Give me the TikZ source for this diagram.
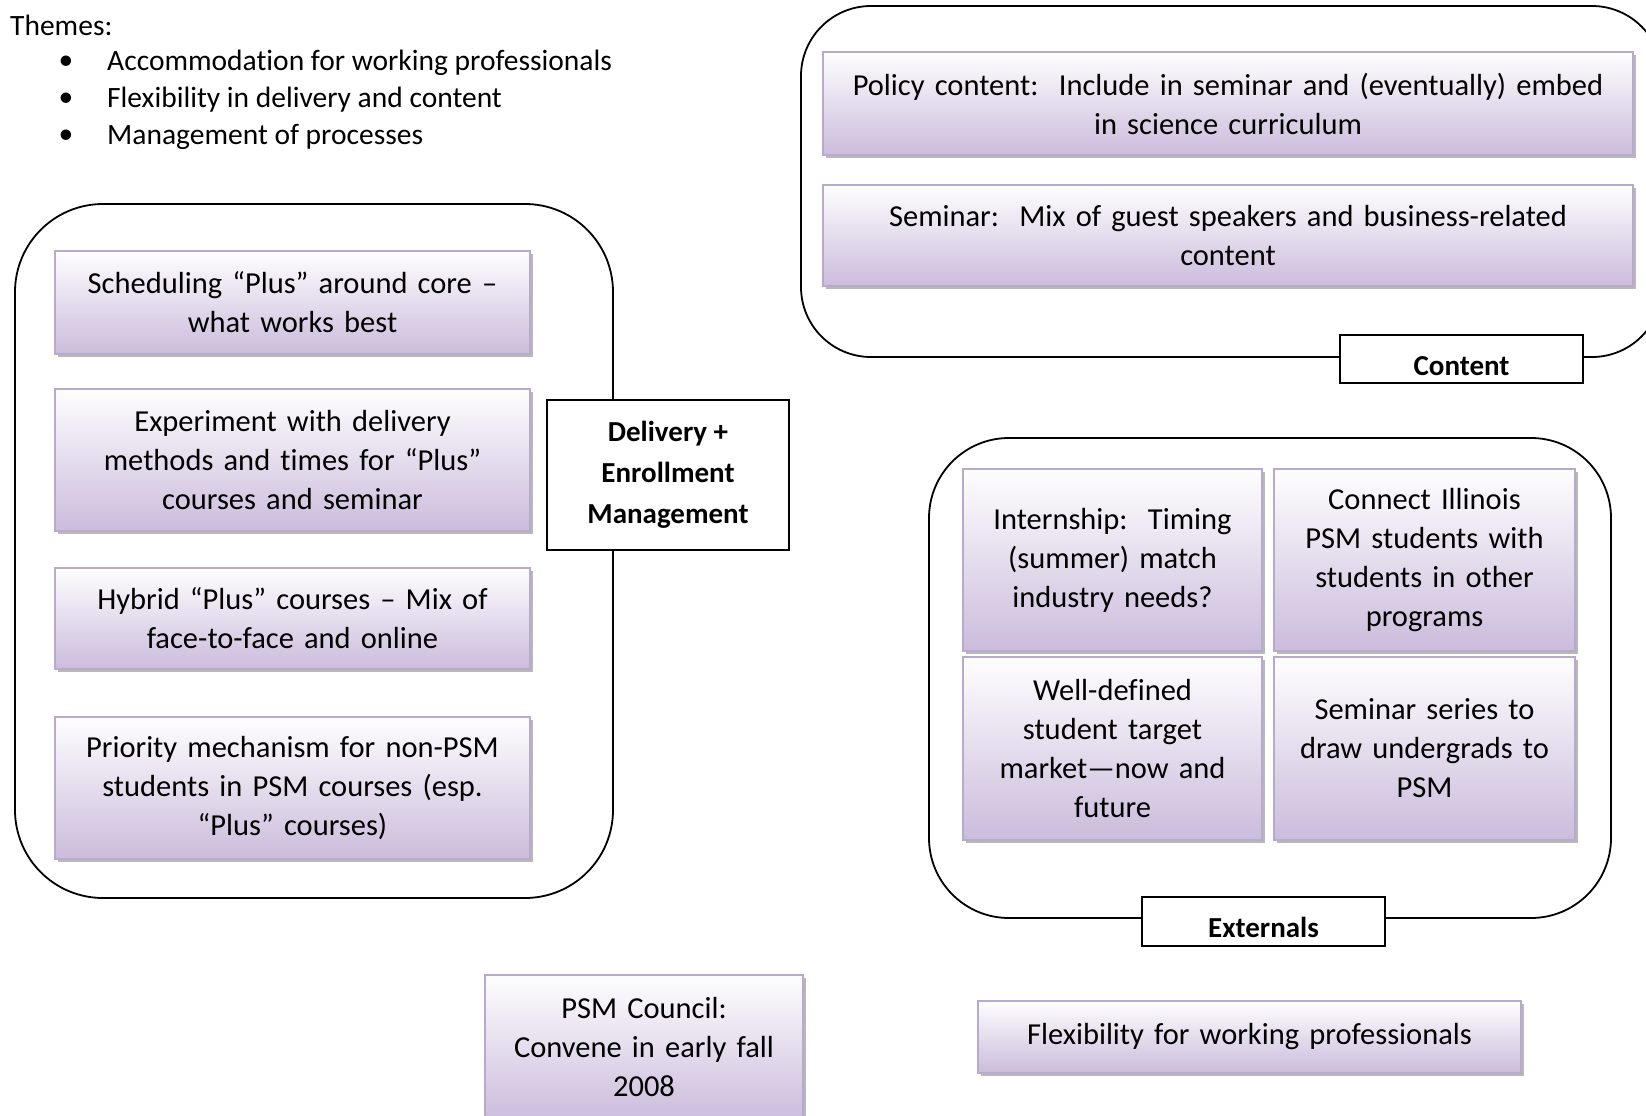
\documentclass[tikz,border=0pt]{standalone}
\usepackage{fontspec}
\setmainfont[RawFeature=-liga]{Carlito}
\usetikzlibrary{shadows}
\definecolor{boxbot}{RGB}{203,188,220}
\definecolor{boxline}{RGB}{184,170,207}
\begin{document}
\begin{tikzpicture}[x=1pt,y=-1pt,
  txt/.style={font=\fontsize{29.5}{38}\selectfont, inner sep=0pt},
  pbox/.style={draw=boxline, line width=1.5pt, top color=white!98!boxbot, bottom color=boxbot,
     align=center, font=\fontsize{30.5}{39}\selectfont, inner xsep=6pt, inner ysep=0pt,
     drop shadow={shadow xshift=3pt, shadow yshift=-3pt, fill=gray!70, opacity=0.8}},
  container/.style={draw=black, line width=1.8pt},
  tag/.style={draw=black, line width=1.8pt, fill=white, align=center,
     font=\bfseries\fontsize{29}{41}\selectfont, inner sep=0pt}
]
\useasboundingbox (0,0) rectangle (1646,1116);
\clip (0,0) rectangle (1646,1116);

% Themes
\node[txt, anchor=west] (themes) at (10,25) {Themes:};
\node[txt] (b1) at (66,63) {•};
\node[txt] (b2) at (66,100) {•};
\node[txt] (b3) at (66,137) {•};
\node[txt, anchor=west] (t1) at (107,63) {Accommodation for working professionals};
\node[txt, anchor=west] (t2) at (107,100) {Flexibility in delivery and content};
\node[txt, anchor=west] (t3) at (107,137) {Management of processes};

% Containers
\draw[container, rounded corners=88pt] (15,204) rectangle (613,898);
\draw[container, rounded corners=70pt] (801,6) rectangle (1662,357);
\draw[container, rounded corners=80pt] (929,438) rectangle (1611,918);

% Left boxes
\node[pbox, text width=463pt, minimum height=103pt] (s1) at (292.5,302.5)
  {Scheduling “Plus” around core –\\ what works best};
\node[pbox, text width=463pt, minimum height=142pt] (s2) at (292.5,460)
  {Experiment with delivery\\ methods and times for “Plus”\\ courses and seminar};
\node[pbox, text width=463pt, minimum height=101pt] (s3) at (292.5,618.5)
  {Hybrid “Plus” courses – Mix of\\ face-to-face and online};
\node[pbox, text width=463pt, minimum height=142pt] (s4) at (292.5,788)
  {Priority mechanism for non-PSM\\ students in PSM courses (esp.\\ “Plus” courses)};

\node[tag, minimum width=242pt, minimum height=150pt] (deliv) at (668,475)
  {Delivery +\\ Enrollment\\ Management};

% Top-right boxes
\node[pbox, text width=798pt, minimum height=103pt] (policy) at (1228,103.5)
  {Policy content:\ \ Include in seminar and (eventually) embed\\ in science curriculum};
\node[pbox, text width=798pt, minimum height=101pt] (seminar) at (1228,235.5)
  {Seminar:\ \ Mix of guest speakers and business-related\\ content};
\node[tag, minimum width=243pt, minimum height=48pt, text height=34pt, text depth=2pt] (content) at (1461.5,359) {Content};

% Externals grid
\node[pbox, text width=287pt, minimum height=182pt] (g1) at (1112.5,560)
  {Internship:\ \ Timing\\ (summer) match\\ industry needs?};
\node[pbox, text width=289pt, minimum height=182pt] (g2) at (1424.5,560)
  {Connect Illinois\\ PSM students with\\ students in other\\ programs};
\node[pbox, text width=287pt, minimum height=183pt] (g3) at (1112.5,748.5)
  {Well-defined\\ student target\\ market—now and\\ future};
\node[pbox, text width=289pt, minimum height=183pt] (g4) at (1424.5,748.5)
  {Seminar series to\\ draw undergrads to\\ PSM};
\node[tag, minimum width=243pt, minimum height=49pt, text height=33pt, text depth=2pt] (ext) at (1263.5,921.5) {Externals};

% Bottom boxes
\node[pbox, text width=306pt, minimum height=145pt] (council) at (644,1047.5)
  {PSM Council:\\ Convene in early fall\\ 2008};
\node[pbox, text width=531pt, minimum height=72pt] (flex) at (1249.5,1037)
  {Flexibility for working professionals};
\end{tikzpicture}
\end{document}
